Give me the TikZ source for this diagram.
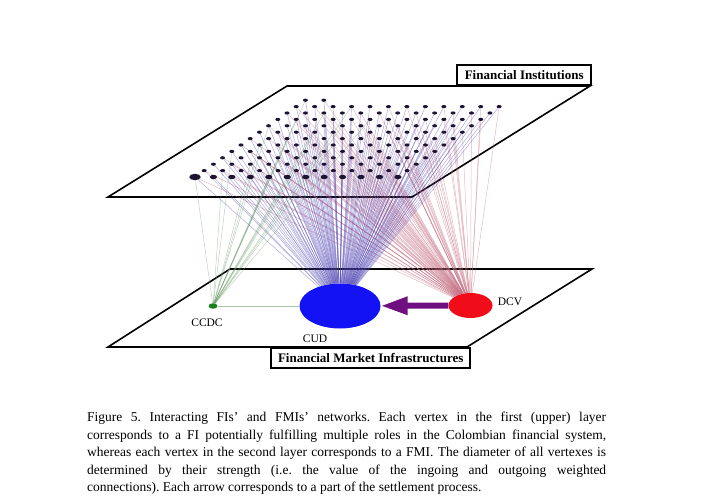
\documentclass[tikz,border=0pt]{standalone}
\usepackage{fontspec}
\setmainfont{Liberation Serif}
\usetikzlibrary{shapes.geometric, positioning, arrows.meta}
\definecolor{fidark}{RGB}{28,20,50}
\definecolor{cudblue}{RGB}{18,18,245}
\definecolor{dcvred}{RGB}{240,12,24}
\definecolor{ccdcgreen}{RGB}{24,130,24}
\definecolor{settle}{RGB}{112,16,128}
\definecolor{tocud}{RGB}{80,70,180}
\definecolor{todcv}{RGB}{195,105,125}
\definecolor{toccdc}{RGB}{110,160,110}
\pgfdeclarelayer{planes}
\pgfdeclarelayer{links}
\pgfsetlayers{planes,links,main}
\frenchspacing

\begin{document}
\begin{tikzpicture}[x=1pt, y=-1pt,
    plane/.style={draw, line width=1.6pt, fill=white, line join=miter},
    planelabel/.style={draw, line width=1.6pt, fill=white, font=\fontsize{13}{15}\selectfont\bfseries, minimum height=20pt, inner sep=0pt},
    fidot/.style={ellipse, fill=fidark, inner sep=0pt},
    fmi/.style={ellipse, inner sep=0pt},
    fmilabel/.style={font=\fontsize{11.5}{13}\selectfont, inner sep=0pt},
    link/.style={line width=0.5pt, opacity=0.45},
    settlement/.style={draw=settle, line width=6pt, -{Triangle[length=27pt, width=17pt]}}]
  \useasboundingbox (0,0) rectangle (721,498);

  % the two layers
  \coordinate (fi-nw) at (287,86);
  \coordinate (fi-ne) at (590,86);
  \coordinate (fi-se) at (412,197);
  \coordinate (fi-sw) at (108,197);
  \coordinate (fmi-nw) at (230,269);
  \coordinate (fmi-ne) at (592,269);
  \coordinate (fmi-se) at (467,347);
  \coordinate (fmi-sw) at (108,347);
  \begin{pgfonlayer}{planes}
    \draw[plane] (fi-nw) -- (fi-ne) -- (fi-se) -- (fi-sw) -- cycle;
    \draw[plane] (fmi-nw) -- (fmi-ne) -- (fmi-se) -- (fmi-sw) -- cycle;
  \end{pgfonlayer}
  \node[planelabel, minimum width=134pt, anchor=south east] (fi-lbl) at ([xshift=2pt]fi-ne) {Financial Institutions};
  \node[planelabel, minimum width=199pt, anchor=north east] (fmi-lbl) at ([xshift=4pt]fmi-se) {Financial Market Infrastructures};

  % financial institutions
  \foreach \i in {0,...,12} {
    \pgfmathtruncatemacro\jmax{\i==12 ? 1 : 11}
    \foreach \j in {0,...,\jmax} {
      \pgfmathsetmacro\dw{\i==0 ? (\j==0 ? 11.5 : 7.2) : 5}
      \pgfmathsetmacro\dh{\i==0 ? (\j==0 ? 6.4 : 4.4) : 3.2}
      \node[fidot, minimum width=\dw, minimum height=\dh] (fi-\i-\j) at (195+9.2*\i+18.45*\j, 177-6.4*\i) {};
    }
  }

  % financial market infrastructures
  \node[fmi, fill=cudblue, minimum width=81pt, minimum height=45pt] (cud) at (340,306) {};
  \node[fmi, fill=dcvred, minimum width=44pt, minimum height=25pt] (dcv) at (470.5,305.5) {};
  \node[fmi, fill=ccdcgreen, minimum width=9pt, minimum height=5.5pt] (ccdc) at (213,306) {};
  \node[fmilabel, below=10pt of ccdc, xshift=-6pt] (ccdc-name) {CCDC};
  \node[fmilabel, below=6pt of cud, xshift=-25pt] (cud-name) {CUD};
  \node[fmilabel, right=5pt of dcv, yshift=3.5pt] (dcv-name) {DCV};

  % links between the layers
  \begin{pgfonlayer}{links}
    \draw[link, draw=toccdc, opacity=0.6, line width=0.6pt] (ccdc) -- (cud);
    \foreach \i in {0,...,12} {
      \pgfmathtruncatemacro\jmax{\i==12 ? 1 : 11}
      \foreach \j in {0,...,\jmax} {
        \draw[link, draw=tocud] (fi-\i-\j) -- (cud);
        \pgfmathtruncatemacro\todcv{mod(7*\i+3*\j,5)<3}
        \ifnum\todcv=1 \draw[link, draw=todcv] (fi-\i-\j) -- (dcv); \fi
        \pgfmathtruncatemacro\toccdc{(mod(3*\i+5*\j,4)==0) && (\j<6)}
        \ifnum\toccdc=1 \draw[link, draw=toccdc] (fi-\i-\j) -- (ccdc); \fi
      }
    }
  \end{pgfonlayer}
  \draw[settlement] (dcv) -- (cud);

  \node[anchor=north west, text width=519pt, align=justify, inner sep=0pt,
        font=\fontsize{13.5}{17.5}\selectfont] (caption) at (87,412)
    {\hyphenpenalty=10000 Figure 5. Interacting FIs’ and FMIs’ networks. Each vertex in the first (upper) layer\linebreak
     corresponds to a FI potentially fulfilling multiple roles in the Colombian financial system,\linebreak
     whereas each vertex in the second layer corresponds to a FMI. The diameter of all vertexes is\linebreak
     determined by their strength (i.e. the value of the ingoing and outgoing weighted\linebreak
     connections). Each arrow corresponds to a part of the settlement process.};
\end{tikzpicture}
\end{document}
